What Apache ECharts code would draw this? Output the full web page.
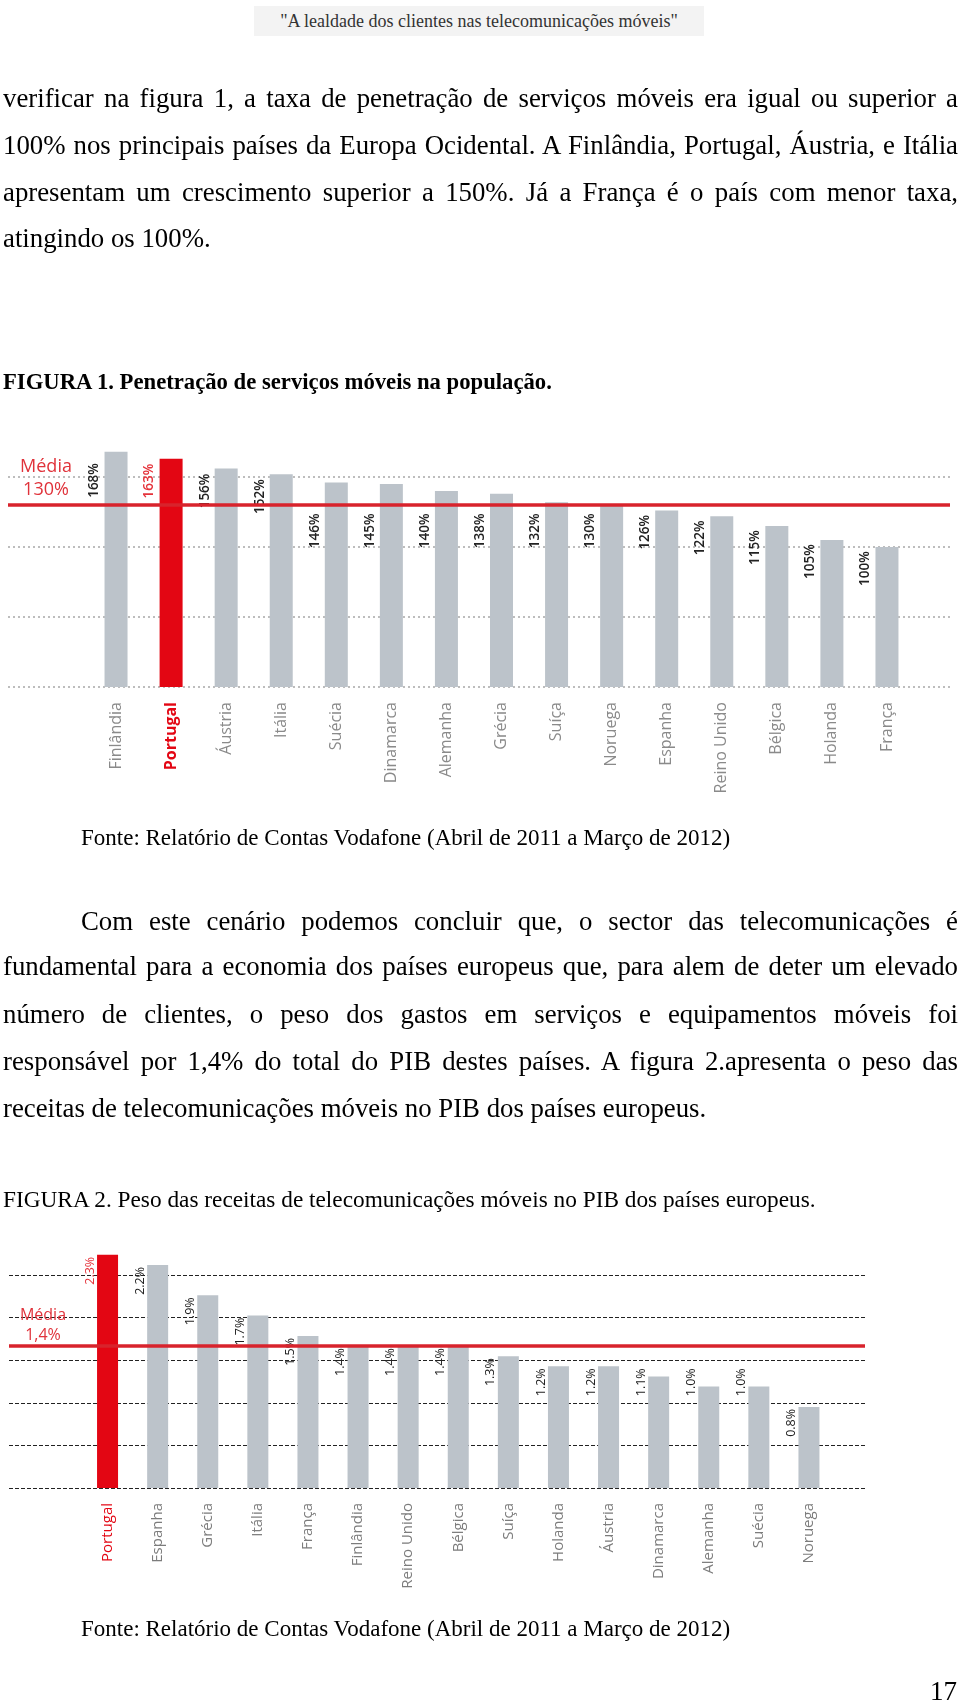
<!DOCTYPE html>
<html>
<head>
<meta charset="utf-8">
<script src="https://cdn.jsdelivr.net/npm/echarts@6/dist/echarts.min.js"></script>
<style>
html,body{margin:0;padding:0;background:#fff;}
#page{position:relative;width:960px;height:1703px;overflow:hidden;}
#chart{position:absolute;left:0;top:0;width:960px;height:1703px;}
.t{position:absolute;font-family:'Liberation Serif','Times New Roman',serif;color:#000;line-height:30px;z-index:2;}
.b{font-size:26.8px;}
.j{text-align:justify;text-align-last:justify;}
.s{font-size:23px;}
</style>
</head>
<body>
<div id="page">
<div id="chart"></div>
<div class="t" style="left:254px;top:6px;width:450px;height:30px;background:#f3f3f3;text-align:center;font-size:18px;color:#333;line-height:30px;">"A lealdade dos clientes nas telecomunicações móveis"</div>

<div class="t b j" style="left:3px;top:83px;width:955px;">verificar na figura 1, a taxa de penetração de serviços móveis era igual ou superior a</div>
<div class="t b j" style="left:3px;top:130px;width:955px;">100% nos principais países da Europa Ocidental. A Finlândia, Portugal, Áustria, e Itália</div>
<div class="t b j" style="left:3px;top:177px;width:955px;">apresentam um crescimento superior a 150%. Já a França é o país com menor taxa,</div>
<div class="t b" style="left:3px;top:223px;width:955px;">atingindo os 100%.</div>

<div class="t" style="left:3px;top:367px;font-weight:bold;font-size:22.7px;">FIGURA 1. Penetração de serviços móveis na população.</div>

<div class="t s" style="left:81px;top:823px;">Fonte: Relatório de Contas Vodafone (Abril de 2011 a Março de 2012)</div>

<div class="t b j" style="left:81px;top:906px;width:877px;">Com este cenário podemos concluir que, o sector das telecomunicações é</div>
<div class="t b j" style="left:3px;top:951px;width:955px;">fundamental para a economia dos países europeus que, para alem de deter um elevado</div>
<div class="t b j" style="left:3px;top:999px;width:955px;">número de clientes, o peso dos gastos em serviços e equipamentos móveis foi</div>
<div class="t b j" style="left:3px;top:1046px;width:955px;">responsável por 1,4% do total do PIB destes países. A figura 2.apresenta o peso das</div>
<div class="t b" style="left:3px;top:1093px;width:955px;">receitas de telecomunicações móveis no PIB dos países europeus.</div>

<div class="t" style="left:3px;top:1184px;font-size:23.3px;">FIGURA 2. Peso das receitas de telecomunicações móveis no PIB dos países europeus.</div>

<div class="t s" style="left:81px;top:1614px;">Fonte: Relatório de Contas Vodafone (Abril de 2011 a Março de 2012)</div>
<div class="t" style="left:930px;top:1676px;font-size:27px;">17</div>
</div>
<script>
// ---------- DATA ----------
const categories1 = ['Finlândia','Portugal','Áustria','Itália','Suécia','Dinamarca','Alemanha','Grécia','Suíça','Noruega','Espanha','Reino Unido','Bélgica','Holanda','França'];
const values1 = [168,163,156,152,146,145,140,138,132,130,126,122,115,105,100];
const media1 = 130;
const gridTicks1 = [0,50,100,150];

const categories2 = ['Portugal','Espanha','Grécia','Itália','França','Finlândia','Reino Unido','Bélgica','Suíça','Holanda','Áustria','Dinamarca','Alemanha','Suécia','Noruega'];
const values2 = [2.3,2.2,1.9,1.7,1.5,1.4,1.4,1.4,1.3,1.2,1.2,1.1,1.0,1.0,0.8];
const media2 = 1.4;
const gridStep2 = 0.42;
const gridCount2 = 5;

const highlight = 'Portugal';

// ---------- STYLE ----------
const RED = '#e30613';
const LINE_RED = '#d8232c';
const TEXT_RED = '#e0323a';
const GREY_BAR = '#bcc3ca';
const LABEL_FONT = "'Open Sans', 'Noto Sans', sans-serif";

// geometry (page pixels)
const H = 1703;
const c1 = {base: 687, bgLeft: 8, bgRight: 10, barLeft: 88.5, barRight: 45.5, barMax: 200, pxPerUnit: 1.4};
const c2 = {base: 1488, bgLeft: 9, bgRight: 95, barLeft: 82.5, barRight: 126, barMax: 2.5, pxPerUnit: 101.4};

// label anchor rules (label top in data units)
function anchor1(v){
  if (v >= 150) return Math.min(v - 3.5, 160);
  if (v >= media1) return media1 - 6;
  return v - 3;
}
function anchor2(v){
  if (v >= 0.95) return Math.max(v - 0.02, 1.18);
  return v - 0.02;
}

const chart = echarts.init(document.getElementById('chart'), null, {renderer:'canvas'});

const bg1Max = gridTicks1[gridTicks1.length-1];
const bg2Max = gridStep2 * gridCount2;

function catLabel(fontSize, color, bold){
  return {
    rotate: 90, margin: 15, fontSize: fontSize, fontFamily: LABEL_FONT, color: color,
    formatter: function(v){ return v === highlight ? '{p|' + v + '}' : v; },
    rich: {p: {color: RED, fontSize: fontSize, fontFamily: LABEL_FONT, fontWeight: bold ? 'bold' : 'normal'}}
  };
}

const option = {
  animation: false,
  backgroundColor: 'transparent',
  grid: [
    {left: c1.bgLeft, right: c1.bgRight, top: c1.base - bg1Max * c1.pxPerUnit, bottom: H - c1.base},
    {left: c1.barLeft, right: c1.barRight, top: c1.base - c1.barMax * c1.pxPerUnit, bottom: H - c1.base},
    {left: c2.bgLeft, right: c2.bgRight, top: c2.base - bg2Max * c2.pxPerUnit, bottom: H - c2.base},
    {left: c2.barLeft, right: c2.barRight, top: c2.base - c2.barMax * c2.pxPerUnit, bottom: H - c2.base}
  ],
  xAxis: [
    {gridIndex: 0, type: 'value', min: 0, max: 1, show: false},
    {gridIndex: 1, type: 'category', data: categories1, boundaryGap: true,
      axisLine: {show: false}, axisTick: {show: false}, axisLabel: catLabel(16, '#8a8a8a', true)},
    {gridIndex: 2, type: 'value', min: 0, max: 1, show: false},
    {gridIndex: 3, type: 'category', data: categories2, boundaryGap: true,
      axisLine: {show: false}, axisTick: {show: false}, axisLabel: catLabel(15, '#7c7c7c', false)}
  ],
  yAxis: [
    {gridIndex: 0, type: 'value', min: 0, max: bg1Max, interval: gridTicks1[1] - gridTicks1[0],
      axisLine: {show: false}, axisTick: {show: false}, axisLabel: {show: false},
      splitLine: {show: true, lineStyle: {color: '#a8a8a8', width: 1.5, type: [2, 3]}}},
    {gridIndex: 1, type: 'value', min: 0, max: c1.barMax, show: false, splitLine: {show: false}},
    {gridIndex: 2, type: 'value', min: 0, max: bg2Max, interval: gridStep2,
      axisLine: {show: false}, axisTick: {show: false}, axisLabel: {show: false},
      splitLine: {show: true, lineStyle: {color: '#222', width: 1, type: [4, 2]}}},
    {gridIndex: 3, type: 'value', min: 0, max: c2.barMax, show: false, splitLine: {show: false}}
  ],
  series: [
    {
      type: 'bar', xAxisIndex: 1, yAxisIndex: 1, barWidth: 23, z: 2,
      data: values1.map(function(v, i){
        const hl = categories1[i] === highlight;
        return {
          value: v,
          itemStyle: {color: hl ? RED : GREY_BAR},
          label: {position: [-10, (v - anchor1(v)) * c1.pxPerUnit], color: hl ? '#e5323a' : '#222'}
        };
      }),
      label: {show: true, rotate: 90, align: 'right', verticalAlign: 'middle',
        fontSize: 13.5, fontWeight: 600, fontFamily: LABEL_FONT, formatter: function(p){ return p.value + '%'; }}
    },
    {
      type: 'line', xAxisIndex: 0, yAxisIndex: 0, z: 5, symbol: 'none', silent: true,
      data: [[0, media1], [1, media1]],
      lineStyle: {color: LINE_RED, width: 3.5}
    },
    {
      type: 'bar', xAxisIndex: 3, yAxisIndex: 3, barWidth: 21, z: 2,
      data: values2.map(function(v, i){
        const hl = categories2[i] === highlight;
        return {
          value: v,
          itemStyle: {color: hl ? RED : GREY_BAR},
          label: {position: [-7, (v - anchor2(v)) * c2.pxPerUnit], color: hl ? '#e5323a' : '#222'}
        };
      }),
      label: {show: true, rotate: 90, align: 'right', verticalAlign: 'middle',
        fontSize: 12.5, fontFamily: LABEL_FONT, formatter: function(p){ return p.value.toFixed(1) + '%'; }}
    },
    {
      type: 'line', xAxisIndex: 2, yAxisIndex: 2, z: 5, symbol: 'none', silent: true,
      data: [[0, media2], [1, media2]],
      lineStyle: {color: LINE_RED, width: 3.5}
    }
  ],
  graphic: [
    {type: 'text', x: 46, y: c1.base - media1 * c1.pxPerUnit - 27, z: 10,
      style: {text: 'Média\n' + media1 + '%', align: 'center', verticalAlign: 'middle',
        font: '18px ' + LABEL_FONT, fill: TEXT_RED, lineHeight: 23}},
    {type: 'text', x: 43, y: c2.base - media2 * c2.pxPerUnit - 21, z: 10,
      style: {text: 'Média\n' + String(media2).replace('.', ',') + '%', align: 'center', verticalAlign: 'middle',
        font: '16px ' + LABEL_FONT, fill: TEXT_RED, lineHeight: 20}}
  ]
};
chart.setOption(option);
</script>
</body>
</html>
